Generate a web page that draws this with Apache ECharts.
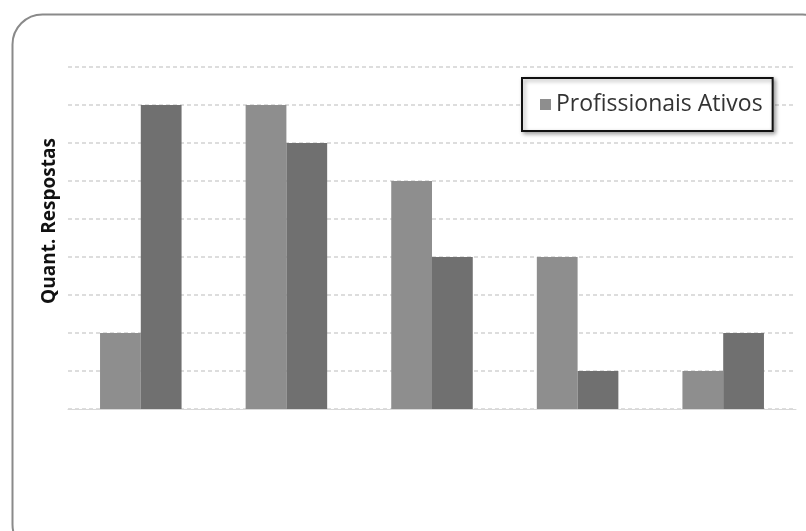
<!DOCTYPE html>
<html><head><meta charset="utf-8">
<script src="https://cdn.jsdelivr.net/npm/echarts@6/dist/echarts.min.js"></script>
<style>html,body{margin:0;padding:0;background:#fff;}#c{width:806px;height:531px;}</style>
</head><body><div id="c"></div>
<script>
const categories = ['1', '2', '3', '4', '5'];
const profissionaisAtivos = [2, 8, 6, 4, 1];
const segundaSerie = [8, 7, 4, 1, 2];
const yTicks = [0, 1, 2, 3, 4, 5, 6, 7, 8, 9];

const chart = echarts.init(document.getElementById('c'));
chart.setOption({
  backgroundColor: '#fff',
  animation: false,
  graphic: [{
    type: 'rect', left: 10, top: 12,
    shape: { width: 820, height: 540, r: 30 },
    style: { fill: 'none', stroke: '#8a8a8a', lineWidth: 2 },
    silent: true, z: -1
  }],
  legend: {
    data: ['Profissionais Ativos'],
    left: 522, top: 78,
    padding: [15, 10, 15, 18],
    borderColor: '#111', borderWidth: 2,
    backgroundColor: '#fff',
    shadowColor: 'rgba(0,0,0,0.35)', shadowBlur: 4, shadowOffsetX: 2, shadowOffsetY: 2,
    itemWidth: 11, itemHeight: 11, itemGap: 8,
    icon: 'rect',
    textStyle: { fontFamily: 'Open Sans', fontSize: 23, color: '#333' }
  },
  grid: { left: 68, right: 10, top: 67, bottom: 122, containLabel: false },
  xAxis: {
    type: 'category', data: categories,
    axisLine: { show: true, lineStyle: { color: '#d8d8d8' } },
    axisTick: { show: false }, axisLabel: { show: false }
  },
  yAxis: {
    type: 'value', min: 0, max: yTicks[yTicks.length - 1], interval: 1,
    name: 'Quant. Respostas', nameLocation: 'middle', nameGap: 9,
    nameTextStyle: { fontFamily: 'Open Sans', fontWeight: 'bold', fontSize: 19, color: '#111', padding: [0, 0, 0, 34] },
    axisLine: { show: false }, axisTick: { show: false }, axisLabel: { show: false },
    splitLine: { show: true, lineStyle: { color: '#d2d2d2', type: [4, 3], width: 1.5 } }
  },
  series: [
    { name: 'Profissionais Ativos', type: 'bar', data: profissionaisAtivos,
      itemStyle: { color: '#8e8e8e' }, barGap: '0%', barCategoryGap: '44%' },
    { name: 'Outros', type: 'bar', data: segundaSerie,
      itemStyle: { color: '#707070' }, barGap: '0%', barCategoryGap: '44%' }
  ]
});
</script></body></html>
